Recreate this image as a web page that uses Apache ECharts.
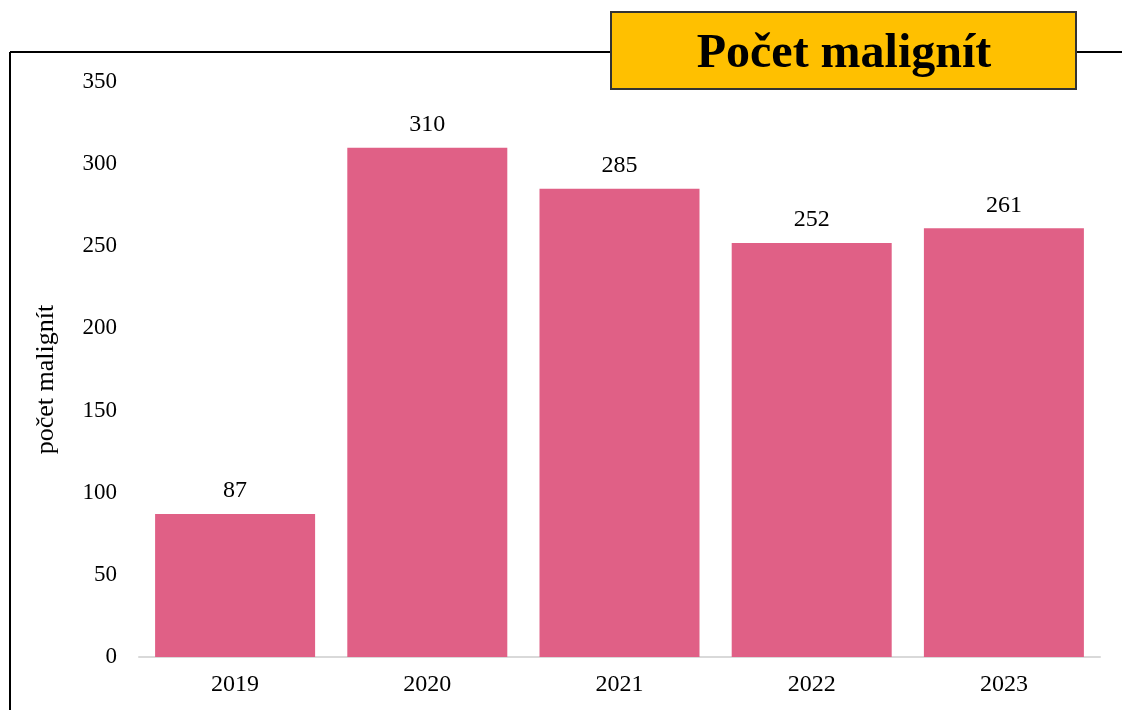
<!DOCTYPE html>
<html>
<head>
<meta charset="utf-8">
<script src="https://cdn.jsdelivr.net/npm/echarts@6/dist/echarts.min.js"></script>
<style>
  html, body { margin: 0; padding: 0; background: #fff; }
  #chart { width: 1122px; height: 710px; }
</style>
</head>
<body>
<div id="chart"></div>
<script>
// data
const years = ['2019', '2020', '2021', '2022', '2023'];
const counts = [87, 310, 285, 252, 261];
const yTicks = { min: 0, max: 350, interval: 50 };

const chart = echarts.init(document.getElementById('chart'), null, { renderer: 'canvas' });
const serif = '"Liberation Serif", "Times New Roman", serif';

const option = {
  backgroundColor: '#fff',
  animation: false,
  grid: { left: 139, right: 22, top: 82, bottom: 53 },
  xAxis: {
    type: 'category',
    data: years,
    axisLine: { lineStyle: { color: '#d9d9d9', width: 2 } },
    axisTick: { show: false },
    axisLabel: { color: '#000', fontFamily: serif, fontSize: 24, margin: 16 }
  },
  yAxis: {
    type: 'value',
    min: yTicks.min,
    max: yTicks.max,
    interval: yTicks.interval,
    name: 'počet malignít',
    nameLocation: 'middle',
    nameGap: 80,
    // shift the rotated name a bit lower, as in the reference
    nameTextStyle: { color: '#000', fontFamily: serif, fontSize: 26, padding: [0, 20, 0, 0] },
    axisLine: { show: false },
    axisTick: { show: false },
    splitLine: { show: false },
    axisLabel: { color: '#000', fontFamily: serif, fontSize: 23, margin: 22 }
  },
  series: [{
    type: 'bar',
    data: counts,
    barWidth: 160,
    itemStyle: { color: '#E06086' },
    label: {
      show: true,
      position: 'top',
      distance: 11,
      color: '#000',
      fontFamily: serif,
      fontSize: 24
    }
  }],
  graphic: [
    // outer frame (left + top lines)
    { type: 'line', shape: { x1: 10, y1: 52, x2: 1122, y2: 52 }, style: { stroke: '#000', lineWidth: 2 }, z: 10 },
    { type: 'line', shape: { x1: 10, y1: 52, x2: 10, y2: 710 }, style: { stroke: '#000', lineWidth: 2 }, z: 10 },
    // title box
    {
      type: 'rect',
      shape: { x: 611, y: 12, width: 465, height: 77 },
      style: { fill: '#FFC000', stroke: '#333', lineWidth: 2 },
      z: 20
    },
    {
      type: 'text',
      x: 844, y: 55,
      style: {
        text: 'Počet malignít',
        fontFamily: serif,
        fontWeight: 'bold',
        fontSize: 48,
        fill: '#000',
        align: 'center',
        verticalAlign: 'middle'
      },
      z: 21
    }
  ]
};

chart.setOption(option);
</script>
</body>
</html>
